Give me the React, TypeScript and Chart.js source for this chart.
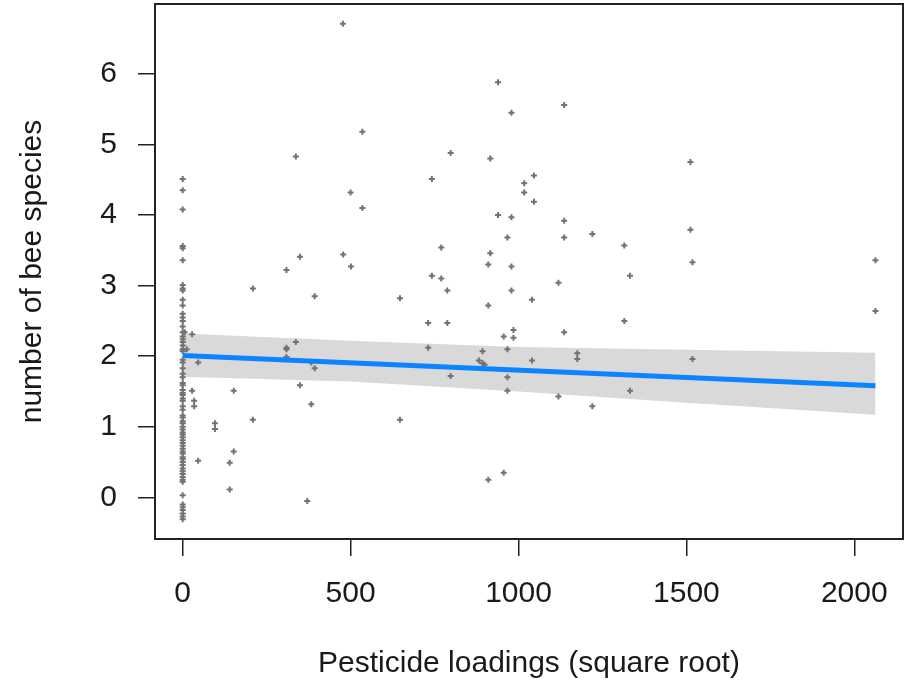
import React, { useEffect, useRef } from "react";
import { Chart, registerables } from "chart.js";

Chart.register(...registerables);

// Observed sites: pesticide loadings (square root) and number of bee species
const pesticideX = [
  0, 0, 0, 0, 0, 0, 0, 0, 0, 0, 0, 0, 0, 0, 0, 0, 0, 0, 0, 0, 0, 0, 0, 0, 0,
  0, 0, 0, 0, 0, 0, 0, 0, 0, 0, 0, 0, 0, 0, 0, 0, 0, 0, 0, 0, 0, 0, 0, 0,
  0, 0, 0, 0, 0, 0, 0, 0, 0, 0, 0, 0, 0, 0, 0, 0, 0, 0, 0,
  6, 28, 12, 46, 28, 34, 34, 96, 96, 46, 140, 152, 140, 152, 209, 209,
  309, 309, 309, 309, 337, 337, 349, 349, 393, 393, 383, 383, 371,
  477, 478, 500, 501, 535, 535, 647, 647, 731, 731, 742, 742, 770, 770,
  788, 788, 798, 798, 882, 893, 893, 899, 910, 910, 910, 916, 916, 939, 939,
  956, 956, 967, 967, 967, 967, 979, 979, 979, 979, 985, 985, 1017, 1017,
  1040, 1040, 1046, 1046, 1119, 1119, 1136, 1136, 1136, 1136, 1175, 1175,
  1220, 1220, 1315, 1315, 1332, 1332, 1512, 1512, 1518, 1518, 2063, 2063,
];
const beeSpecies = [
  4.51, 4.35, 4.08, 3.56, 3.53, 3.36, 3.01, 2.93, 2.8, 2.72, 2.55, 2.5, 2.42,
  2.34, 2.28, 2.2, 2.15, 2.07, 1.91, 1.83, 1.7, 1.62, 1.59, 1.48, 1.45,
  1.37, 1.29, 1.24, 1.16, 1.13, 1.05, 1.0, 0.92, 0.89, 0.81, 0.73, 0.65, 0.62,
  0.54, 0.46, 0.41, 0.33, 0.25, 0.22, 0.03, -0.1, -0.18, -0.23, -0.31,
  1.95, 1.75, 1.52, 1.4, 1.08, 0.96, 0.85, 0.77, 0.69, 0.57, 0.5, 0.37, 0.29,
  -0.14, -0.27, 2.1, 2.24, 2.6, 2.96,
  2.34, 2.31, 2.1, 1.91, 1.51, 1.37, 1.29, 1.05, 0.97, 0.52, 0.49, 0.65, 0.11,
  1.51, 2.96, 1.1,
  3.22, 2.12, 2.1, 1.99, 2.2, 4.83, 3.41, 1.59, 2.85, 1.83, 1.91, 1.32, -0.05,
  6.71, 3.44, 4.32, 3.27, 5.18, 4.1, 2.82, 1.1, 2.47, 2.12, 4.51, 3.14, 3.54, 3.1,
  2.93, 2.47, 4.88, 1.72, 1.94, 2.07, 1.9, 1.88, 3.3, 2.72, 0.25, 4.8, 3.46, 5.88, 4.0,
  2.28, 0.35, 3.68, 2.1, 1.7, 1.51, 5.45, 3.97, 3.27, 2.93, 2.37, 2.26, 4.45, 4.32,
  2.8, 1.94, 4.56, 4.19, 3.04, 1.43, 5.56, 3.92, 3.68, 2.34, 2.04, 1.96,
  3.73, 1.29, 3.57, 2.5, 3.14, 1.51, 4.75, 3.79, 3.33, 1.96, 3.36, 2.64,
];

// Fitted regression line
const fitX = [0, 2063];
const fitY = [2.01, 1.58];

// Confidence band
const bandX = [0, 500, 1000, 1500, 2063];
const bandUpper = [2.32, 2.22, 2.13, 2.09, 2.05];
const bandLower = [1.71, 1.64, 1.5, 1.34, 1.17];

const xTicks = [0, 500, 1000, 1500, 2000];
const yTicks = [0, 1, 2, 3, 4, 5, 6];

const FONT = "'Liberation Sans', Arial, 'DejaVu Sans', sans-serif";
const INK = "#1a1a1a";

const boxPlugin = {
  id: "rbox",
  afterDraw(chart: any) {
    const { ctx, chartArea } = chart;
    ctx.save();
    ctx.strokeStyle = "#222";
    ctx.lineWidth = 2;
    ctx.strokeRect(
      chartArea.left,
      chartArea.top,
      chartArea.right - chartArea.left,
      chartArea.bottom - chartArea.top
    );
    ctx.restore();
  },
};

export default function App() {
  const ref = useRef<HTMLCanvasElement | null>(null);

  useEffect(() => {
    if (!ref.current) return;
    const points = pesticideX.map((x, i) => ({ x, y: beeSpecies[i] }));
    const fit = fitX.map((x, i) => ({ x, y: fitY[i] }));
    const lower = bandX.map((x, i) => ({ x, y: bandLower[i] }));
    const upper = bandX.map((x, i) => ({ x, y: bandUpper[i] }));

    const chart = new Chart(ref.current, {
      type: "scatter",
      data: {
        datasets: [
          {
            label: "lower",
            data: lower,
            showLine: true,
            borderWidth: 0,
            borderColor: "rgba(0,0,0,0)",
            pointRadius: 0,
            pointHoverRadius: 0,
            fill: false,
            order: 4,
          },
          {
            label: "upper",
            data: upper,
            showLine: true,
            borderWidth: 0,
            borderColor: "rgba(0,0,0,0)",
            backgroundColor: "#d9d9d9",
            pointRadius: 0,
            pointHoverRadius: 0,
            fill: "-1",
            order: 3,
          },
          {
            label: "sites",
            data: points,
            pointStyle: "cross",
            pointRadius: 3,
            pointHoverRadius: 3,
            pointBorderWidth: 2,
            borderColor: "#727272",
            backgroundColor: "#727272",
            order: 2,
          },
          {
            label: "fit",
            data: fit,
            showLine: true,
            borderColor: "#0a84ff",
            borderWidth: 5,
            pointRadius: 0,
            pointHoverRadius: 0,
            fill: false,
            order: 1,
          },
        ],
      },
      options: {
        responsive: false,
        animation: false,
        devicePixelRatio: 1,
        events: [],
        layout: { autoPadding: false, padding: { top: 4, right: 2, left: 0, bottom: 0 } },
        plugins: {
          legend: { display: false },
          tooltip: { enabled: false },
        },
        scales: {
          x: {
            type: "linear",
            min: -82.5,
            max: 2145,
            afterBuildTicks: (s: any) => {
              s.ticks = xTicks.map((v) => ({ value: v }));
            },
            afterFit: (s: any) => {
              s.height = 149;
              s.paddingLeft = 0;
              s.paddingRight = 0;
              s.paddingTop = 0;
              s.paddingBottom = 0;
            },
            border: { display: false },
            grid: {
              drawOnChartArea: false,
              drawTicks: true,
              tickLength: 17,
              color: "#222",
              lineWidth: 1.5,
            },
            ticks: {
              padding: 20,
              color: INK,
              maxRotation: 0,
              autoSkip: false,
              font: { family: FONT, size: 30 },
              callback: (v: any) => String(v),
            },
            title: {
              display: true,
              text: "Pesticide loadings (square root)",
              color: INK,
              font: { family: FONT, size: 30 },
              padding: { top: 0, bottom: 6 },
            },
          },
          y: {
            type: "linear",
            min: -0.59,
            max: 6.99,
            afterBuildTicks: (s: any) => {
              s.ticks = yTicks.map((v) => ({ value: v }));
            },
            afterFit: (s: any) => {
              s.width = 155;
              s.paddingLeft = 0;
              s.paddingRight = 0;
              s.paddingTop = 0;
              s.paddingBottom = 0;
            },
            border: { display: false },
            grid: {
              drawOnChartArea: false,
              drawTicks: true,
              tickLength: 17,
              color: "#222",
              lineWidth: 1.5,
            },
            ticks: {
              padding: 21,
              color: INK,
              autoSkip: false,
              font: { family: FONT, size: 30 },
              callback: (v: any) => String(v),
            },
            title: {
              display: true,
              text: "number of bee species",
              color: INK,
              font: { family: FONT, size: 30 },
              padding: { top: 15, bottom: 0 },
            },
          },
        },
      },
      plugins: [boxPlugin],
    });
    return () => chart.destroy();
  }, []);

  return (
    <div style={{ position: "absolute", left: 0, top: 0, width: 905, height: 688, background: "#fff" }}>
      <canvas ref={ref} width={905} height={688} />
    </div>
  );
}
